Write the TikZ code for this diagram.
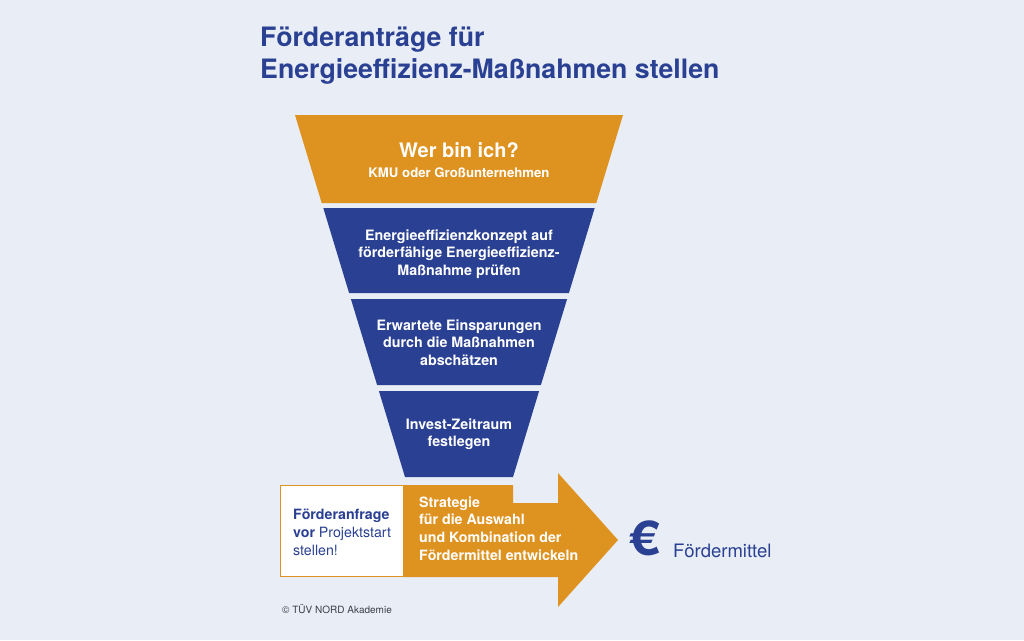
\documentclass[tikz,border=0pt]{standalone}
\usepackage{fontspec}
\setmainfont{TeX Gyre Heros}
\definecolor{bgc}{RGB}{233,237,246}
\definecolor{org}{RGB}{222,146,32}
\definecolor{blu}{RGB}{42,64,146}
\definecolor{cpy}{RGB}{60,62,72}
\newcommand{\tstrut}{\rule{0pt}{30pt}}
\tikzset{
  seg/.style={fill=blu},
  mltext/.style={inner sep=0pt, align=center, anchor=north, text=white,
    font=\bfseries\fontsize{14.3}{17.5}\selectfont},
  titletext/.style={inner sep=0pt, anchor=base west, text=blu,
    font=\bfseries\fontsize{26.7}{32}\selectfont}
}
\begin{document}
\begin{tikzpicture}[x=1pt,y=-1pt]
\fill[bgc] (0,0) rectangle (1024,640);
\useasboundingbox (0,0) rectangle (1024,640);
% title
\node[titletext] (t1) at (260,46) {Förderanträge für};
\node[titletext] (t2) at (260,78) {Energieeffizienz-Maßnahmen stellen};
% funnel
\fill[org] (295,115) -- (623,115) -- (596.3,203) -- (321.7,203) -- cycle;
\fill[seg] (323.3,208) -- (594.7,208) -- (568.9,293) -- (349.1,293) -- cycle;
\fill[seg] (350.9,299) -- (567.1,299) -- (540.9,385) -- (377.1,385) -- cycle;
\fill[seg] (378.9,391) -- (539.1,391) -- (513.0,477) -- (405.0,477) -- cycle;
\node[inner sep=0pt, anchor=base, text=white, font=\bfseries\fontsize{20}{24}\selectfont] (s1a) at (459,157) {Wer bin ich?};
\node[inner sep=0pt, anchor=base, text=white, font=\bfseries\fontsize{13.2}{16}\selectfont] (s1b) at (459,177) {KMU oder Großunternehmen};
\node[mltext] (s2) at (459,210) {\tstrut Energieeffizienzkonzept auf\\förderfähige Energieeffizienz-\\Maßnahme prüfen};
\node[mltext] (s3) at (459,300) {\tstrut Erwartete Einsparungen\\durch die Maßnahmen\\abschätzen};
\node[mltext] (s4) at (459,399) {\tstrut Invest-Zeitraum\\festlegen};
% bottom arrow
\fill[org] (403,485) -- (513,485) -- (513,503) -- (558,503) -- (558,473) -- (618,540) -- (558,607) -- (558,577) -- (403,577) -- cycle;
\draw[org, line width=1pt, fill=white] (280.5,485.5) rectangle (403,576.5);
\node[inner sep=0pt, align=left, anchor=north west, text=blu,
  font=\fontsize{14.2}{18}\selectfont] (req) at (293,489)
  {\tstrut\textbf{Förderanfrage}\\\textbf{vor} Projektstart\\stellen!};
\node[inner sep=0pt, align=left, anchor=north west, text=white,
  font=\bfseries\fontsize{14.2}{17.7}\selectfont] (strat) at (419,477)
  {\tstrut Strategie\\für die Auswahl\\und Kombination der\\Fördermittel entwickeln};
% euro
\node[inner sep=0pt, anchor=base west, text=blu, xscale=1.15, font=\bfseries\fontsize{48}{52}\selectfont] (eur) at (629,555) {€};
\node[inner sep=0pt, anchor=base west, text=blu, font=\fontsize{18.5}{22}\selectfont] (fm) at (673,557) {Fördermittel};
% copyright
\node[inner sep=0pt, anchor=base west, text=cpy, font=\fontsize{10}{12}\selectfont] (cp) at (282,613) {© TÜV NORD Akademie};
\end{tikzpicture}
\end{document}
